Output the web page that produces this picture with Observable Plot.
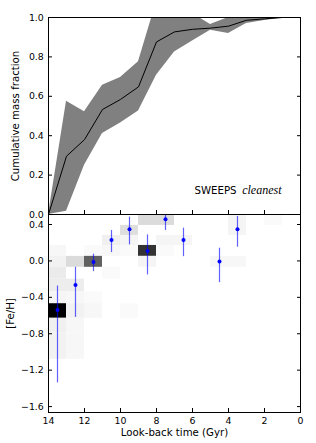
<!DOCTYPE html>
<html><head><meta charset="utf-8">
<script src="https://cdn.jsdelivr.net/npm/d3@7"></script>
<script src="https://cdn.jsdelivr.net/npm/@observablehq/plot@0.6"></script>
<style>
body{margin:0;background:#fff;}
#wrap{position:relative;width:316px;height:443px;overflow:hidden;background:#fff;}
#wrap svg{position:absolute;left:0;}
</style></head><body><div id="wrap"></div>
<script>
// ---- top panel: cumulative mass fraction vs look-back time ----
const ages     = [14, 13, 12, 11, 10, 9, 8, 7, 6, 5, 4, 3, 2, 1, 0];
const cumMass  = [0, 0.296, 0.38, 0.533, 0.584, 0.648, 0.876, 0.927, 0.94, 0.946, 0.956, 0.986, 0.993, 1.0, 1.0];
const cumLow   = [0, 0.017, 0.25, 0.411, 0.465, 0.526, 0.707, 0.825, 0.881, 0.935, 0.919, 0.97, 0.985, 0.997, 1.0];
const cumHigh  = [0, 0.575, 0.521, 0.656, 0.695, 0.775, 1.08, 1.05, 1.02, 0.965, 1.0, 1.0, 1.0, 1.0, 1.0];

// ---- bottom panel: age-metallicity relation ----
const binAge   = [13.5, 12.5, 11.5, 10.5, 9.5, 8.5, 7.5, 6.5, 4.5, 3.5];
const feMean   = [-0.54, -0.264, -0.011, 0.231, 0.349, 0.11, 0.459, 0.231, -0.007, 0.349];
const feLow    = [-1.34, -0.62, -0.117, 0.092, 0.176, -0.154, 0.334, 0.047, -0.239, 0.151];
const feHigh   = [-0.275, -0.07, 0.074, 0.334, 0.481, 0.286, 0.50, 0.36, 0.14, 0.488];

// density cells: [Fe/H] bin edges, cell age bin (older edge), row index, weight
const feEdges    = [0.50, 0.39, 0.28, 0.17, 0.05, -0.07, -0.20, -0.34, -0.47, -0.63, -0.79, -1.08];
const cellAge    = [14, 14, 14, 14, 14, 14, 14, 14,  13, 13, 13, 13, 13, 13,  12, 12, 12, 12,  11, 11, 11,  10, 10, 10, 10,  9, 9, 9,  8, 8, 8,  7,  5,  4, 4, 4,  2];
const cellRow    = [3, 4, 5, 6, 7, 8, 9, 10,  4, 6, 7, 8, 9, 10,  3, 4, 7, 8,  2, 3, 5,  1, 2, 3, 8,  0, 3, 4,  0, 2, 3,  2,  4,  0, 1, 4,  0];
const cellWeight = [0.03, 0.05, 0.08, 0.07, 0.04, 1.0, 0.06, 0.05,  0.14, 0.07, 0.03, 0.05, 0.03, 0.03,  0.02, 0.62, 0.02, 0.03,  0.06, 0.03, 0.02,  0.13, 0.04, 0.02, 0.02,  0.14, 0.8, 0.04,  0.14, 0.04, 0.02,  0.04,  0.03,  0.04, 0.04, 0.03,  0.02];

// ---- tick values ----
const xTicks    = [14, 12, 10, 8, 6, 4, 2, 0];
const massTicks = [0, 0.2, 0.4, 0.6, 0.8, 1.0];
const feTicks   = [0.4, 0.0, -0.4, -0.8, -1.2, -1.6];

const cum = ages.map((a, i) => ({age: a, m: cumMass[i], lo: cumLow[i], hi: cumHigh[i]}));
const amr = binAge.map((a, i) => ({age: a, fe: feMean[i], lo: feLow[i], hi: feHigh[i]}));
const cells = cellAge.map((a, i) => ({x1: a, x2: a - 1, y1: feEdges[cellRow[i]], y2: feEdges[cellRow[i] + 1], w: cellWeight[i]}));

const fmt1 = d3.format(".1f");
const plotStyle = {fontFamily: "DejaVu Sans", fontSize: "9.4px", background: "transparent", overflow: "visible"};
const W = 316;
const LBL = 10.2;

const topPlot = Plot.plot({
  width: W, height: 215,
  marginLeft: 48, marginRight: 16, marginTop: 17, marginBottom: 1,
  style: plotStyle,
  x: {domain: [14, 0]},
  y: {domain: [0, 1]},
  marks: [
    Plot.areaY(cum, {x: "age", y1: "lo", y2: "hi", fill: "#808080", clip: true}),
    Plot.line(cum, {x: "age", y: "m", stroke: "black", strokeWidth: 1}),
    Plot.text(["SWEEPS"], {text: d => d, frameAnchor: "bottom-right", dx: -64, dy: -21, textAnchor: "end", fontSize: LBL}),
    Plot.text(["cleanest"], {text: d => d, frameAnchor: "bottom-right", dx: -19, dy: -21, textAnchor: "end", fontSize: 12, fontFamily: "Liberation Serif", fontStyle: "italic"}),
    Plot.text(["Cumulative mass fraction"], {text: d => d, frameAnchor: "left", dx: -33, rotate: -90, textAnchor: "middle", fontSize: LBL}),
    Plot.axisY({ticks: massTicks, anchor: "left", tickSize: -4, tickPadding: 8.7, tickFormat: fmt1, label: null}),
    Plot.axisY({ticks: massTicks, anchor: "right", tickSize: -4, tickFormat: () => "", label: null}),
    Plot.axisX({ticks: xTicks, anchor: "bottom", tickSize: -4, tickFormat: () => "", label: null}),
    Plot.frame({stroke: "black"})
  ]
});

const bottomPlot = Plot.plot({
  width: W, height: 229,
  marginLeft: 48, marginRight: 16, marginTop: 0, marginBottom: 31,
  style: plotStyle,
  x: {domain: [14, 0]},
  y: {domain: [-1.665, 0.51]},
  color: {type: "linear", domain: [0, 1], range: ["#ffffff", "#000000"]},
  marks: [
    Plot.rect(cells, {x1: "x1", x2: "x2", y1: "y1", y2: "y2", fill: "w"}),
    Plot.ruleX(amr, {x: "age", y1: "lo", y2: "hi", stroke: "#0000ff", strokeOpacity: 0.62, strokeWidth: 1.2}),
    Plot.dot(amr, {x: "age", y: "fe", r: 2, fill: "#0000ff", stroke: null}),
    Plot.text(["[Fe/H]"], {text: d => d, frameAnchor: "left", dx: -38, rotate: -90, textAnchor: "middle", fontSize: LBL}),
    Plot.text(["Look-back time (Gyr)"], {text: d => d, frameAnchor: "bottom", dy: 23, fontSize: LBL}),
    Plot.axisY({ticks: feTicks, anchor: "left", tickSize: -4, tickPadding: 8.7, tickFormat: fmt1, label: null}),
    Plot.axisY({ticks: feTicks, anchor: "right", tickSize: -4, tickFormat: () => "", label: null}),
    Plot.axisX({ticks: xTicks, anchor: "bottom", tickSize: -4, tickPadding: 8.5, tickFormat: d => String(d), label: null}),
    Plot.frame({stroke: "black"})
  ]
});

const wrap = document.getElementById("wrap");
topPlot.style.top = "0px";
bottomPlot.style.top = "214px";
wrap.appendChild(topPlot);
wrap.appendChild(bottomPlot);
</script>
</body></html>
